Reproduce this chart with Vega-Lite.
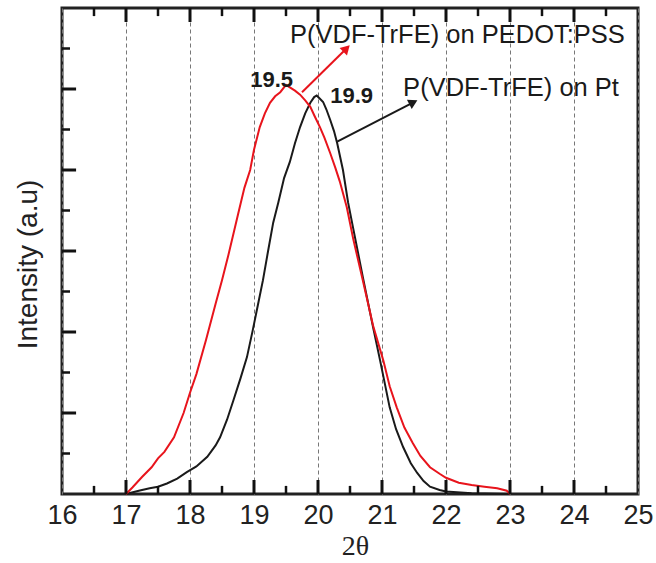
{
  "$schema": "https://vega.github.io/schema/vega-lite/v6.json",
  "width": 576,
  "height": 486,
  "autosize": {"type": "none"},
  "padding": {"left": 62, "top": 8, "right": 18, "bottom": 69},
  "background": "white",
  "config": {
    "view": {"stroke": "#222", "strokeWidth": 3},
    "font": "Liberation Sans",
    "axis": {"domain": false, "grid": false}
  },
  "datasets": {
    "curves": [
      {"x": 17.0, "y": 0.0, "sample": "Pt"},
      {"x": 17.2, "y": 0.04, "sample": "Pt"},
      {"x": 17.37, "y": 0.07, "sample": "Pt"},
      {"x": 17.5, "y": 0.09, "sample": "Pt"},
      {"x": 17.64, "y": 0.13, "sample": "Pt"},
      {"x": 17.8, "y": 0.19, "sample": "Pt"},
      {"x": 17.95, "y": 0.27, "sample": "Pt"},
      {"x": 18.1, "y": 0.34, "sample": "Pt"},
      {"x": 18.27, "y": 0.46, "sample": "Pt"},
      {"x": 18.4, "y": 0.6, "sample": "Pt"},
      {"x": 18.47, "y": 0.7, "sample": "Pt"},
      {"x": 18.58, "y": 0.92, "sample": "Pt"},
      {"x": 18.68, "y": 1.16, "sample": "Pt"},
      {"x": 18.79, "y": 1.43, "sample": "Pt"},
      {"x": 18.89, "y": 1.69, "sample": "Pt"},
      {"x": 18.98, "y": 2.02, "sample": "Pt"},
      {"x": 19.06, "y": 2.33, "sample": "Pt"},
      {"x": 19.14, "y": 2.64, "sample": "Pt"},
      {"x": 19.22, "y": 3.0, "sample": "Pt"},
      {"x": 19.3, "y": 3.35, "sample": "Pt"},
      {"x": 19.38, "y": 3.6, "sample": "Pt"},
      {"x": 19.47, "y": 3.9, "sample": "Pt"},
      {"x": 19.56, "y": 4.1, "sample": "Pt"},
      {"x": 19.64, "y": 4.33, "sample": "Pt"},
      {"x": 19.72, "y": 4.53, "sample": "Pt"},
      {"x": 19.8, "y": 4.7, "sample": "Pt"},
      {"x": 19.88, "y": 4.83, "sample": "Pt"},
      {"x": 19.94, "y": 4.9, "sample": "Pt"},
      {"x": 19.98, "y": 4.92, "sample": "Pt"},
      {"x": 20.03, "y": 4.88, "sample": "Pt"},
      {"x": 20.08, "y": 4.84, "sample": "Pt"},
      {"x": 20.13, "y": 4.75, "sample": "Pt"},
      {"x": 20.19, "y": 4.62, "sample": "Pt"},
      {"x": 20.25, "y": 4.48, "sample": "Pt"},
      {"x": 20.3, "y": 4.33, "sample": "Pt"},
      {"x": 20.39, "y": 4.0, "sample": "Pt"},
      {"x": 20.47, "y": 3.6, "sample": "Pt"},
      {"x": 20.55, "y": 3.28, "sample": "Pt"},
      {"x": 20.62, "y": 3.0, "sample": "Pt"},
      {"x": 20.7, "y": 2.68, "sample": "Pt"},
      {"x": 20.86, "y": 2.06, "sample": "Pt"},
      {"x": 20.97, "y": 1.65, "sample": "Pt"},
      {"x": 21.12, "y": 1.07, "sample": "Pt"},
      {"x": 21.22, "y": 0.8, "sample": "Pt"},
      {"x": 21.33, "y": 0.58, "sample": "Pt"},
      {"x": 21.45, "y": 0.38, "sample": "Pt"},
      {"x": 21.55, "y": 0.26, "sample": "Pt"},
      {"x": 21.65, "y": 0.16, "sample": "Pt"},
      {"x": 21.75, "y": 0.09, "sample": "Pt"},
      {"x": 21.9, "y": 0.05, "sample": "Pt"},
      {"x": 22.0, "y": 0.03, "sample": "Pt"},
      {"x": 22.4, "y": 0.01, "sample": "Pt"},
      {"x": 23.0, "y": 0.0, "sample": "Pt"},
      {"x": 17.0, "y": 0.0, "sample": "PEDOT:PSS"},
      {"x": 17.1, "y": 0.08, "sample": "PEDOT:PSS"},
      {"x": 17.25, "y": 0.21, "sample": "PEDOT:PSS"},
      {"x": 17.4, "y": 0.33, "sample": "PEDOT:PSS"},
      {"x": 17.5, "y": 0.44, "sample": "PEDOT:PSS"},
      {"x": 17.6, "y": 0.52, "sample": "PEDOT:PSS"},
      {"x": 17.75, "y": 0.7, "sample": "PEDOT:PSS"},
      {"x": 17.9, "y": 1.0, "sample": "PEDOT:PSS"},
      {"x": 18.0, "y": 1.25, "sample": "PEDOT:PSS"},
      {"x": 18.1, "y": 1.48, "sample": "PEDOT:PSS"},
      {"x": 18.25, "y": 1.9, "sample": "PEDOT:PSS"},
      {"x": 18.4, "y": 2.35, "sample": "PEDOT:PSS"},
      {"x": 18.5, "y": 2.64, "sample": "PEDOT:PSS"},
      {"x": 18.6, "y": 2.95, "sample": "PEDOT:PSS"},
      {"x": 18.75, "y": 3.45, "sample": "PEDOT:PSS"},
      {"x": 18.85, "y": 3.78, "sample": "PEDOT:PSS"},
      {"x": 18.94, "y": 4.0, "sample": "PEDOT:PSS"},
      {"x": 19.0, "y": 4.25, "sample": "PEDOT:PSS"},
      {"x": 19.09, "y": 4.53, "sample": "PEDOT:PSS"},
      {"x": 19.17, "y": 4.7, "sample": "PEDOT:PSS"},
      {"x": 19.25, "y": 4.83, "sample": "PEDOT:PSS"},
      {"x": 19.33, "y": 4.91, "sample": "PEDOT:PSS"},
      {"x": 19.41, "y": 4.96, "sample": "PEDOT:PSS"},
      {"x": 19.5, "y": 5.05, "sample": "PEDOT:PSS"},
      {"x": 19.56, "y": 5.02, "sample": "PEDOT:PSS"},
      {"x": 19.64, "y": 4.98, "sample": "PEDOT:PSS"},
      {"x": 19.72, "y": 4.93, "sample": "PEDOT:PSS"},
      {"x": 19.8, "y": 4.86, "sample": "PEDOT:PSS"},
      {"x": 19.88, "y": 4.78, "sample": "PEDOT:PSS"},
      {"x": 19.95, "y": 4.66, "sample": "PEDOT:PSS"},
      {"x": 20.03, "y": 4.53, "sample": "PEDOT:PSS"},
      {"x": 20.1, "y": 4.4, "sample": "PEDOT:PSS"},
      {"x": 20.19, "y": 4.21, "sample": "PEDOT:PSS"},
      {"x": 20.27, "y": 4.03, "sample": "PEDOT:PSS"},
      {"x": 20.34, "y": 3.86, "sample": "PEDOT:PSS"},
      {"x": 20.45, "y": 3.54, "sample": "PEDOT:PSS"},
      {"x": 20.55, "y": 3.15, "sample": "PEDOT:PSS"},
      {"x": 20.7, "y": 2.64, "sample": "PEDOT:PSS"},
      {"x": 20.86, "y": 2.08, "sample": "PEDOT:PSS"},
      {"x": 21.02, "y": 1.65, "sample": "PEDOT:PSS"},
      {"x": 21.12, "y": 1.33, "sample": "PEDOT:PSS"},
      {"x": 21.23, "y": 1.07, "sample": "PEDOT:PSS"},
      {"x": 21.35, "y": 0.82, "sample": "PEDOT:PSS"},
      {"x": 21.48, "y": 0.63, "sample": "PEDOT:PSS"},
      {"x": 21.6, "y": 0.47, "sample": "PEDOT:PSS"},
      {"x": 21.75, "y": 0.33, "sample": "PEDOT:PSS"},
      {"x": 21.9, "y": 0.25, "sample": "PEDOT:PSS"},
      {"x": 22.0, "y": 0.2, "sample": "PEDOT:PSS"},
      {"x": 22.2, "y": 0.14, "sample": "PEDOT:PSS"},
      {"x": 22.4, "y": 0.11, "sample": "PEDOT:PSS"},
      {"x": 22.6, "y": 0.09, "sample": "PEDOT:PSS"},
      {"x": 22.8, "y": 0.07, "sample": "PEDOT:PSS"},
      {"x": 22.95, "y": 0.04, "sample": "PEDOT:PSS"},
      {"x": 23.0, "y": 0.0, "sample": "PEDOT:PSS"}
    ],
    "arrows": [
      {"x": 19.75, "y": 4.96, "x2": 20.445, "y2": 5.5, "angle": 45, "sample": "PEDOT:PSS"},
      {"x": 20.3, "y": 4.35, "x2": 21.49, "y2": 4.836, "angle": 62.6, "sample": "Pt"}
    ],
    "names": [
      {"x": 19.5625, "y": 5.568, "label": "P(VDF-TrFE) on PEDOT:PSS"},
      {"x": 21.33, "y": 4.91, "label": "P(VDF-TrFE) on Pt"}
    ],
    "peaks": [
      {"x": 18.94, "y": 5.02, "label": "19.5"},
      {"x": 20.19, "y": 4.83, "label": "19.9"}
    ],
    "xmajor": [{"v": 17}, {"v": 18}, {"v": 19}, {"v": 20}, {"v": 21}, {"v": 22}, {"v": 23}, {"v": 24}],
    "xminor": [{"v": 16.5}, {"v": 17.5}, {"v": 18.5}, {"v": 19.5}, {"v": 20.5}, {"v": 21.5}, {"v": 22.5}, {"v": 23.5}, {"v": 24.5}],
    "ymajor": [{"v": 1}, {"v": 2}, {"v": 3}, {"v": 4}, {"v": 5}],
    "yminor": [{"v": 0.5}, {"v": 1.5}, {"v": 2.5}, {"v": 3.5}, {"v": 4.5}, {"v": 5.5}]
  },
  "layer": [
    {
      "data": {"name": "curves"},
      "transform": [{"filter": "datum.sample === 'Pt'"}],
      "mark": {"type": "line", "strokeWidth": 2},
      "encoding": {
        "x": {
          "field": "x", "type": "quantitative",
          "scale": {"domain": [16, 25], "nice": false, "zero": false},
          "axis": {
            "orient": "bottom",
            "title": "2θ",
            "titleFont": "Liberation Serif",
            "titleFontSize": 28,
            "titleFontWeight": "normal",
            "titleColor": "#222",
            "titleBaseline": "middle",
            "titleX": 293,
            "titleY": 52,
            "values": [16, 17, 18, 19, 20, 21, 22, 23, 24, 25],
            "format": "d",
            "labelFontSize": 27,
            "labelColor": "#222",
            "labelPadding": 8,
            "labelFlush": false,
            "labelOverlap": false,
            "ticks": false,
            "tickSize": 0,
            "grid": true,
            "gridColor": "#777",
            "gridDash": [4, 3],
            "gridWidth": 1
          }
        },
        "y": {
          "field": "y", "type": "quantitative",
          "scale": {"domain": [0, 6], "nice": false},
          "axis": {
            "orient": "left",
            "title": "Intensity (a.u)",
            "titleFontSize": 28,
            "titleFontWeight": "normal",
            "titleColor": "#222",
            "titleBaseline": "middle",
            "titleAngle": -90,
            "titleX": -34,
            "titleY": 256,
            "values": [0, 1, 2, 3, 4, 5, 6],
            "labels": false,
            "ticks": false,
            "tickSize": 0
          }
        },
        "color": {"value": "#1a1a1a"}
      }
    },
    {
      "data": {"name": "curves"},
      "transform": [{"filter": "datum.sample === 'PEDOT:PSS'"}],
      "mark": {"type": "line", "strokeWidth": 2},
      "encoding": {
        "x": {"field": "x", "type": "quantitative"},
        "y": {"field": "y", "type": "quantitative"},
        "color": {"value": "#e8141c"}
      }
    },
    {
      "data": {"name": "xmajor"},
      "mark": {"type": "rule", "strokeWidth": 3, "color": "#111", "strokeCap": "butt"},
      "encoding": {
        "x": {"field": "v", "type": "quantitative"},
        "y": {"datum": 0, "type": "quantitative"},
        "y2": {"datum": 0.173}
      }
    },
    {
      "data": {"name": "xmajor"},
      "mark": {"type": "rule", "strokeWidth": 3, "color": "#111", "strokeCap": "butt"},
      "encoding": {
        "x": {"field": "v", "type": "quantitative"},
        "y": {"datum": 6, "type": "quantitative"},
        "y2": {"datum": 5.827}
      }
    },
    {
      "data": {"name": "xminor"},
      "mark": {"type": "rule", "strokeWidth": 2.5, "color": "#111", "strokeCap": "butt"},
      "encoding": {
        "x": {"field": "v", "type": "quantitative"},
        "y": {"datum": 0, "type": "quantitative"},
        "y2": {"datum": 0.1}
      }
    },
    {
      "data": {"name": "xminor"},
      "mark": {"type": "rule", "strokeWidth": 2.5, "color": "#111", "strokeCap": "butt"},
      "encoding": {
        "x": {"field": "v", "type": "quantitative"},
        "y": {"datum": 6, "type": "quantitative"},
        "y2": {"datum": 5.9}
      }
    },
    {
      "data": {"name": "ymajor"},
      "mark": {"type": "rule", "strokeWidth": 3, "color": "#111", "strokeCap": "butt"},
      "encoding": {
        "y": {"field": "v", "type": "quantitative"},
        "x": {"datum": 16, "type": "quantitative"},
        "x2": {"datum": 16.22}
      }
    },
    {
      "data": {"name": "yminor"},
      "mark": {"type": "rule", "strokeWidth": 2.5, "color": "#111", "strokeCap": "butt"},
      "encoding": {
        "y": {"field": "v", "type": "quantitative"},
        "x": {"datum": 16, "type": "quantitative"},
        "x2": {"datum": 16.125}
      }
    },
    {
      "data": {"name": "arrows"},
      "mark": {"type": "rule", "strokeWidth": 2},
      "encoding": {
        "x": {"field": "x", "type": "quantitative"},
        "y": {"field": "y", "type": "quantitative"},
        "x2": {"field": "x2"},
        "y2": {"field": "y2"},
        "color": {"field": "sample", "type": "nominal", "scale": {"domain": ["PEDOT:PSS", "Pt"], "range": ["#e8141c", "#1a1a1a"]}, "legend": null}
      }
    },
    {
      "data": {"name": "arrows"},
      "mark": {"type": "point", "shape": "triangle-up", "filled": true, "size": 110, "opacity": 1},
      "encoding": {
        "x": {"field": "x2", "type": "quantitative"},
        "y": {"field": "y2", "type": "quantitative"},
        "angle": {"field": "angle", "type": "quantitative", "scale": null},
        "color": {"field": "sample", "type": "nominal", "scale": {"domain": ["PEDOT:PSS", "Pt"], "range": ["#e8141c", "#1a1a1a"]}, "legend": null}
      }
    },
    {
      "data": {"name": "names"},
      "mark": {"type": "text", "align": "left", "baseline": "alphabetic", "color": "#1a1a1a", "fontSize": 25.5},
      "encoding": {
        "x": {"field": "x", "type": "quantitative"},
        "y": {"field": "y", "type": "quantitative"},
        "text": {"field": "label"}
      }
    },
    {
      "data": {"name": "peaks"},
      "mark": {"type": "text", "align": "left", "baseline": "alphabetic", "color": "#1a1a1a", "fontSize": 22, "fontWeight": "bold"},
      "encoding": {
        "x": {"field": "x", "type": "quantitative"},
        "y": {"field": "y", "type": "quantitative"},
        "text": {"field": "label"}
      }
    }
  ]
}
